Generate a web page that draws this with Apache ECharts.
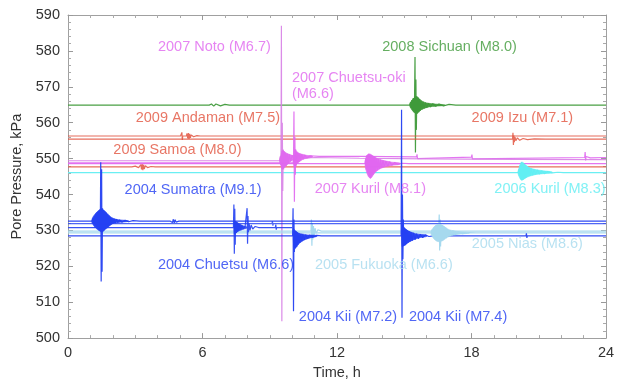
<!DOCTYPE html>
<html><head><meta charset="utf-8">
<script src="https://cdn.jsdelivr.net/npm/echarts@6/dist/echarts.min.js"></script>
<style>html,body{margin:0;padding:0;background:#fff}#c{width:630px;height:385px}</style>
</head><body><div id="c"></div>
<script>
// ---- data (time in h, pore pressure in kPa) ----
const xTicks = [0, 6, 12, 18, 24];
const yTicks = [500, 510, 520, 530, 540, 550, 560, 570, 580, 590];

const sichuan2008 = [[0,564.9],[6.3,564.9],[6.4,565.2],[6.5,564.6],[6.6,565.2],[6.8,564.7],[7.0,565.1],[7.2,564.9],[15.25,564.9],[15.28,565.7],[15.31,564.1],[15.34,566.3],[15.37,563.5],[15.40,566.9],[15.43,562.9],[15.46,567.2],[15.48,578.3],[15.50,551.7],[15.52,572.0],[15.54,558.0],[15.56,567.3],[15.59,562.6],[15.62,567.0],[15.65,562.9],[15.68,566.6],[15.71,563.3],[15.75,566.2],[15.79,563.6],[15.83,565.9],[15.88,563.9],[15.94,565.6],[16.00,564.2],[16.08,565.4],[16.17,564.4],[16.27,565.3],[16.40,564.6],[16.55,565.2],[16.75,564.7],[17.0,565.1],[17.3,564.9],[24,564.9]];

const andaman2009 = [[0,556.3],[5.02,556.3],[5.08,557.3],[5.10,555.2],[5.12,556.3],[5.28,556.3],[5.31,557.0],[5.34,555.6],[5.37,557.1],[5.40,555.5],[5.43,556.9],[5.46,555.8],[5.50,556.6],[5.60,556.1],[5.75,556.4],[5.9,556.3],[24,556.3]];
const izu2009 = [[0,555.4],[19.83,555.4],[19.85,557.2],[19.87,553.8],[19.89,556.4],[19.91,554.6],[19.94,556.0],[19.98,555.0],[20.05,555.8],[20.15,555.1],[20.3,555.6],[20.5,555.3],[20.8,555.5],[21.3,555.4],[24,555.4]];
const samoa2009 = [[0,547.7],[2.85,547.7],[3.0,547.9],[3.15,547.5],[3.25,548.3],[3.28,547.0],[3.31,548.5],[3.34,546.8],[3.37,548.3],[3.40,547.1],[3.45,548.0],[3.55,547.5],[3.7,547.8],[3.9,547.7],[24,547.7]];

const noto2007 = [[0,549.4],[9.44,549.4],[9.47,550.6],[9.50,548.2],[9.52,587.0],[9.54,504.7],[9.56,560.0],[9.58,541.0],[9.60,552.5],[9.62,547.0],[9.65,552.0],[9.68,547.6],[9.71,551.7],[9.74,548.0],[9.78,551.4],[9.82,548.5],[9.87,551.2],[9.93,549.2],[10.0,550.9],[10.1,549.7],[10.25,550.6],[10.5,550.1],[11,550.3],[13,550.1],[16,549.9],[20,549.8],[24,549.7]];
const chuetsuoki2007 = [[0,548.8],[10.04,548.8],[10.06,549.8],[10.08,563.1],[10.10,538.0],[10.12,556.0],[10.14,545.5],[10.16,552.5],[10.18,548.0],[10.21,551.9],[10.24,548.7],[10.27,551.6],[10.30,549.1],[10.34,551.4],[10.38,549.5],[10.43,551.2],[10.49,549.8],[10.56,551.0],[10.65,550.2],[10.8,550.8],[11.2,550.6],[13,550.6],[15.55,550.5],[15.57,551.2],[15.59,550.0],[15.61,550.5],[18.0,550.4],[18.02,551.1],[18.04,549.9],[18.06,550.4],[23.05,550.3],[23.07,551.8],[23.09,549.5],[23.11,550.6],[23.3,550.2],[24,550.3]];
const kuril2007 = [[0,548.6],[13.25,548.6],[13.28,550.0],[13.31,547.0],[13.34,551.0],[13.37,546.0],[13.40,551.3],[13.43,545.0],[13.46,551.2],[13.49,544.5],[13.52,551.0],[13.55,545.0],[13.58,550.8],[13.61,545.5],[13.64,550.6],[13.67,546.0],[13.70,550.4],[13.73,546.4],[13.77,550.1],[13.81,546.8],[13.85,549.9],[13.89,547.1],[13.94,549.7],[13.99,547.4],[14.05,549.5],[14.11,547.7],[14.18,549.3],[14.26,547.9],[14.35,549.1],[14.45,548.2],[14.57,548.9],[14.7,548.4],[14.9,548.7],[15.2,548.6],[24,548.6]];

const kuril2006 = [[0,546.1],[20.08,546.1],[20.11,547.0],[20.14,545.2],[20.17,548.2],[20.20,544.3],[20.23,549.0],[20.26,544.0],[20.29,548.8],[20.32,544.2],[20.35,548.5],[20.38,544.4],[20.41,548.2],[20.44,544.7],[20.48,547.8],[20.52,545.0],[20.56,547.5],[20.61,545.2],[20.66,547.2],[20.72,545.4],[20.79,547.0],[20.86,545.6],[20.94,546.8],[21.03,545.7],[21.13,546.6],[21.25,545.8],[21.4,546.4],[21.6,546.0],[21.85,546.2],[22.1,546.1],[24,546.1]];

const sumatra2004 = [[0,532.6],[1.08,532.6],[1.12,533.4],[1.15,531.8],[1.18,534.0],[1.21,531.2],[1.24,534.6],[1.27,530.7],[1.30,535.1],[1.33,530.3],[1.36,535.5],[1.39,530.0],[1.42,535.8],[1.44,529.8],[1.46,549.0],[1.48,515.8],[1.50,547.0],[1.52,518.5],[1.54,536.2],[1.56,529.6],[1.59,535.7],[1.62,530.0],[1.65,535.3],[1.68,530.3],[1.71,535.0],[1.74,530.6],[1.77,534.6],[1.80,531.0],[1.83,534.2],[1.86,531.3],[1.89,533.8],[1.92,531.6],[1.96,533.5],[2.00,531.8],[2.05,533.3],[2.10,532.0],[2.16,533.1],[2.22,532.2],[2.30,532.9],[2.40,532.3],[2.55,532.8],[2.70,532.4],[2.90,532.7],[3.2,532.6],[4.55,532.6],[4.62,533.0],[4.66,532.2],[4.70,533.1],[4.74,532.1],[4.78,533.0],[4.82,532.3],[4.88,532.8],[4.95,532.6],[24,532.6]];
const record2004b = [[0,531.9],[9.10,531.9],[9.12,532.6],[9.14,531.3],[9.16,531.9],[24,531.9]];
const chuetsu2004 = [[0,530.8],[7.38,530.8],[7.40,537.2],[7.42,523.5],[7.44,536.0],[7.46,526.0],[7.48,532.6],[7.51,529.3],[7.54,532.3],[7.57,529.6],[7.60,532.0],[7.63,529.9],[7.67,531.7],[7.71,530.1],[7.76,531.4],[7.82,530.4],[7.90,531.1],[7.97,530.8],[7.99,536.2],[8.01,526.3],[8.03,534.0],[8.05,529.5],[8.08,531.9],[8.12,530.0],[8.17,531.5],[8.24,530.4],[8.35,531.1],[8.5,530.8],[9.25,530.8],[9.27,531.6],[9.29,530.2],[9.31,530.8],[10.0,530.8]];
const kii2004 = [[0,528.5],[10.02,528.5],[10.04,536.2],[10.06,507.5],[10.08,533.0],[10.10,524.0],[10.12,530.0],[10.14,525.0],[10.17,529.8],[10.20,525.5],[10.23,529.5],[10.26,526.0],[10.30,529.2],[10.34,526.5],[10.38,529.0],[10.43,527.0],[10.48,528.9],[10.54,527.4],[10.60,528.8],[10.68,527.8],[10.78,528.7],[10.9,528.1],[11.1,528.6],[11.3,528.5],[14.86,528.5],[14.88,563.6],[14.90,505.7],[14.92,540.0],[14.94,522.0],[14.96,533.0],[14.98,525.7],[15.01,530.7],[15.04,525.9],[15.07,530.4],[15.10,526.2],[15.13,530.1],[15.17,526.5],[15.21,529.8],[15.25,526.8],[15.30,529.5],[15.35,527.1],[15.41,529.3],[15.48,527.4],[15.55,529.1],[15.63,527.7],[15.72,528.9],[15.82,528.0],[15.95,528.7],[16.1,528.3],[16.3,528.5],[20.43,528.5],[20.45,529.2],[20.47,527.9],[20.49,528.5],[24,528.5]];

const fukuoka2005 = [[0,529.8],[10.84,529.8],[10.86,533.0],[10.88,525.7],[10.90,532.0],[10.92,527.5],[10.95,531.2],[10.98,528.5],[11.02,530.6],[11.07,529.2],[11.15,530.2],[11.3,529.8],[24,529.8]];
const nias2005 = [[0,529.3],[16.2,529.3],[16.24,530.2],[16.28,528.4],[16.32,530.8],[16.36,527.8],[16.40,531.3],[16.44,527.3],[16.48,531.6],[16.52,527.0],[16.56,534.4],[16.58,524.4],[16.60,533.0],[16.62,525.5],[16.65,531.6],[16.68,527.0],[16.71,531.4],[16.74,527.2],[16.77,531.1],[16.80,527.5],[16.84,530.8],[16.88,527.8],[16.93,530.4],[16.98,528.2],[17.04,530.1],[17.10,528.5],[17.18,529.9],[17.28,528.8],[17.40,529.6],[17.6,529.1],[17.9,529.4],[18.2,529.3],[24,529.3]];

// shaking envelopes: [t, upper, lower]
const sumatraEnv = [[1.06,532.9,532.3],[1.12,533.8,531.6],[1.2,534.5,530.9],[1.3,535.2,530.3],[1.4,535.7,529.9],[1.5,536.0,529.6],[1.6,535.6,530.0],[1.7,535.0,530.5],[1.8,534.3,531.0],[1.9,533.8,531.5],[2.0,533.4,531.9],[2.15,533.1,532.1],[2.35,532.9,532.3],[2.7,532.7,532.5]];
const sichuanEnv = [[15.25,565.3,564.5],[15.35,566.3,563.5],[15.45,567.0,562.8],[15.55,567.3,562.5],[15.65,566.8,563.0],[15.75,566.2,563.6],[15.9,565.7,564.0],[16.1,565.4,564.4],[16.4,565.2,564.6],[16.8,565.0,564.8]];
const notoEnv = [[9.44,549.8,549.0],[9.5,551.0,548.0],[9.56,552.3,547.0],[9.65,552.0,547.5],[9.75,551.5,548.1],[9.87,551.2,548.9],[10.0,550.9,549.5],[10.2,550.6,549.9]];
const chuetsuokiEnv = [[10.06,550.0,548.5],[10.12,552.5,547.5],[10.2,552.0,548.5],[10.3,551.5,549.0],[10.45,551.2,549.7],[10.65,550.9,550.1],[10.9,550.7,550.4]];
const kuril2007Env = [[13.25,549.0,548.2],[13.3,550.5,546.6],[13.4,551.3,545.0],[13.5,551.2,544.5],[13.6,550.8,545.3],[13.7,550.4,546.1],[13.85,549.9,546.9],[14.0,549.6,547.4],[14.2,549.3,547.8],[14.45,549.0,548.1],[14.8,548.8,548.4]];
const kuril2006Env = [[20.08,546.5,545.7],[20.15,548.0,544.6],[20.22,549.0,544.0],[20.3,548.9,544.1],[20.4,548.3,544.6],[20.55,547.6,545.0],[20.7,547.2,545.3],[20.9,546.9,545.6],[21.2,546.6,545.8],[21.6,546.3,546.0]];
const chuetsu2004Env = [[7.42,532.5,529.0],[7.5,532.4,529.3],[7.6,532.0,529.8],[7.72,531.6,530.1],[7.85,531.2,530.4],[7.97,531.0,530.6]];
const kii72Env = [[10.06,530.5,526.5],[10.12,530.0,525.0],[10.2,529.6,525.4],[10.3,529.2,526.3],[10.45,529.0,527.0],[10.6,528.8,527.5],[10.8,528.7,527.9],[11.1,528.6,528.3]];
const kii74Env = [[14.9,531.5,525.5],[14.98,530.9,525.7],[15.08,530.3,526.1],[15.2,529.8,526.7],[15.35,529.4,527.2],[15.5,529.1,527.6],[15.7,528.9,528.0],[16.0,528.7,528.3]];
const niasEnv = [[16.2,529.7,528.9],[16.3,530.8,527.8],[16.4,531.4,527.2],[16.5,531.7,526.9],[16.6,531.7,526.9],[16.7,531.4,527.2],[16.85,530.8,527.8],[17.0,530.2,528.3],[17.2,529.9,528.7],[17.5,529.6,529.0],[17.9,529.4,529.2]];

// annotation texts and their anchor points (t, p)
const labelTexts = ['2007 Noto (M6.7)','2008 Sichuan (M8.0)','2007 Chuetsu-oki\n(M6.6)','2009 Andaman (M7.5)','2009 Izu (M7.1)','2009 Samoa (M8.0)','2007 Kuril (M8.1)','2006 Kuril (M8.3)','2004 Sumatra (M9.1)','2004 Chuetsu (M6.6)','2005 Fukuoka (M6.6)','2005 Nias (M8.6)','2004 Kii (M7.2)','2004 Kii (M7.4)'];
const labelT = [6.53, 17.02, 9.99, 6.24, 20.27, 4.88, 13.49, 21.5, 5.58, 7.05, 14.09, 20.49, 12.49, 17.4];
const labelP = [581.2, 581.2, 570.2, 561.3, 561.3, 552.3, 541.6, 541.6, 541.3, 520.3, 520.3, 526.3, 506.0, 506.0];

// ---- styles ----
const C = {
  green: '#3f9a3a', red: '#e2543f', magenta: '#e066ef', blue: '#2440f2',
  lightblue: '#a6d9ee', cyan: '#62eef2'
};
const labelColors = [C.magenta, C.green, C.magenta, C.red, C.red, C.red, C.magenta, C.cyan, C.blue, C.blue, C.lightblue, C.lightblue, C.blue, C.blue];
const labelAlign = ['center','center','left','center','center','center','center','center','center','center','center','center','center','center'];

const traces = [
  [sichuan2008, C.green, 0.95],
  [andaman2009, C.red, 0.85],
  [izu2009, C.red, 0.85],
  [samoa2009, C.red, 0.85],
  [kuril2006, C.cyan, 0.95],
  [kuril2007, C.magenta, 0.9],
  [chuetsuoki2007, C.magenta, 0.9],
  [noto2007, '#d77fe6', 0.9],
  [fukuoka2005, C.lightblue, 1],
  [nias2005, C.lightblue, 1],
  [record2004b, C.blue, 0.8],
  [chuetsu2004, C.blue, 0.9],
  [sumatra2004, C.blue, 0.95],
  [kii2004, C.blue, 0.95]
];
const envelopes = [
  [sichuanEnv, C.green, 0.95],
  [kuril2006Env, C.cyan, 0.95],
  [kuril2007Env, C.magenta, 0.9],
  [chuetsuokiEnv, C.magenta, 0.9],
  [notoEnv, C.magenta, 0.9],
  [niasEnv, C.lightblue, 1],
  [chuetsu2004Env, C.blue, 0.9],
  [sumatraEnv, C.blue, 0.95],
  [kii72Env, C.blue, 0.95],
  [kii74Env, C.blue, 0.95]
];

const FONT = 'Liberation Sans, Arial, Helvetica, sans-serif';
const series = traces.map(([d, col, op]) => ({
  type: 'line', data: d, showSymbol: false, symbol: 'none', silent: true,
  lineStyle: { color: col, width: 1.2, opacity: op }, animation: false, z: 2
}));
envelopes.forEach(([env, col, op]) => {
  series.push({
    type: 'custom', coordinateSystem: 'cartesian2d', silent: true, animation: false, z: 3,
    data: [[env[0][0], env[0][1]]],
    encode: { x: 0, y: 1 },
    renderItem: (params, api) => {
      const upper = env.map(e => api.coord([e[0], e[1]]));
      const lower = env.slice().reverse().map(e => api.coord([e[0], e[2]]));
      return { type: 'polygon', shape: { points: upper.concat(lower), smooth: 0.3 },
               style: { fill: col, opacity: op, stroke: col, lineWidth: 0.6 } };
    }
  });
});
series.push({
  type: 'scatter', symbolSize: 0, silent: true, z: 5, animation: false,
  data: labelTexts.map((s, i) => ({
    value: [labelT[i], labelP[i]],
    label: {
      show: true, position: 'inside', formatter: s, color: labelColors[i],
      fontSize: 14.5, fontFamily: FONT, align: labelAlign[i], verticalAlign: 'middle', lineHeight: 16
    }
  }))
});

const axisCommon = {
  axisLine: { show: true, onZero: false, lineStyle: { color: '#a0a0a0', width: 1 } },
  axisTick: { show: true, inside: true, length: 5, lineStyle: { color: '#999' } },
  minorTick: { show: true, length: 3, lineStyle: { color: '#aaa' } },
  splitLine: { show: false }
};

const chart = echarts.init(document.getElementById('c'), null, { renderer: 'canvas' });
chart.setOption({
  animation: false,
  backgroundColor: '#fff',
  grid: { left: 68, right: 24, top: 15, bottom: 41, containLabel: false },
  xAxis: [
    Object.assign({}, axisCommon, {
      type: 'value', min: xTicks[0], max: xTicks[xTicks.length - 1], interval: 6,
      minorTick: Object.assign({}, axisCommon.minorTick, { splitNumber: 6 }),
      axisLabel: { color: '#333', fontSize: 14.5, fontFamily: FONT, margin: 7 },
      name: 'Time, h', nameLocation: 'middle', nameGap: 25,
      nameTextStyle: { color: '#333', fontSize: 14.5, fontFamily: FONT }
    }),
    Object.assign({}, axisCommon, {
      type: 'value', position: 'top', min: 0, max: 24, interval: 6,
      minorTick: Object.assign({}, axisCommon.minorTick, { splitNumber: 6 }),
      axisLabel: { show: false }
    })
  ],
  yAxis: [
    Object.assign({}, axisCommon, {
      type: 'value', min: yTicks[0], max: yTicks[yTicks.length - 1], interval: 10,
      minorTick: Object.assign({}, axisCommon.minorTick, { splitNumber: 5 }),
      axisLabel: { color: '#333', fontSize: 14.5, fontFamily: FONT, margin: 8 },
      name: 'Pore Pressure, kPa', nameLocation: 'middle', nameGap: 36,
      nameTextStyle: { color: '#333', fontSize: 14.5, fontFamily: FONT }
    }),
    Object.assign({}, axisCommon, {
      type: 'value', position: 'right', min: 500, max: 590, interval: 10,
      minorTick: Object.assign({}, axisCommon.minorTick, { splitNumber: 5 }),
      axisLabel: { show: false }
    })
  ],
  series: series
});
</script>
</body></html>
